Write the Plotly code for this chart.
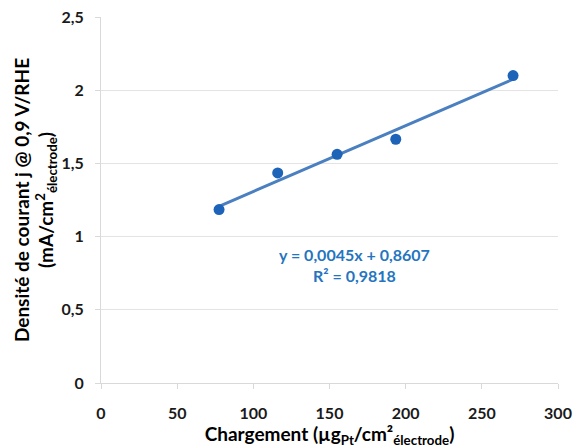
import numpy as np
import plotly.graph_objects as go

loading = [77.5, 116, 155, 193.5, 270.5]
current = [1.185, 1.435, 1.562, 1.665, 2.10]
x_ticks = [0, 50, 100, 150, 200, 250, 300]
y_ticks = [0, 0.5, 1, 1.5, 2, 2.5]
eq_text = "y = 0,0045x + 0,8607<br>R² = 0,9818"

slope, intercept = np.polyfit(loading, current, 1)
fit_x = [min(loading), max(loading)]
fit_y = [slope * v + intercept for v in fit_x]

FONT = "Lato"
fig = go.Figure()
fig.add_trace(go.Scatter(x=fit_x, y=fit_y, mode="lines",
                         line=dict(color="#4a7fc0", width=3), hoverinfo="skip"))
fig.add_trace(go.Scatter(x=loading, y=current, mode="markers",
                         marker=dict(color="#1d63b8", size=11)))

fig.add_annotation(x=166.5, y=0.806, xref="x", yref="y", text=eq_text, showarrow=False,
                   font=dict(family=FONT, size=16, color="#2474c0", weight="bold"),
                   align="center")

fig.update_layout(
    width=573, height=448,
    margin=dict(l=101, r=15, t=17, b=65),
    paper_bgcolor="white", plot_bgcolor="white",
    showlegend=False,
    separators=", ",
    font=dict(family=FONT, color="#1a1a1a"),
    xaxis=dict(range=[0, 300], tickvals=x_ticks, showgrid=False, zeroline=False,
               automargin=False,
               showline=True, linecolor="#d9d9d9", linewidth=1,
               ticks="outside", ticklen=5, tickcolor="#d9d9d9", ticklabelstandoff=11,
               tickfont=dict(family=FONT, size=16, color="#1a1a1a", weight="bold"),
               title=dict(text="Chargement (µg<sub>Pt</sub>/cm²<sub>électrode</sub>)",
                          font=dict(family=FONT, size=19, color="#000000", weight="bold"),
                          standoff=9)),
    yaxis=dict(range=[0, 2.5], tickvals=y_ticks, showgrid=True, gridcolor="#e3e3e3",
               automargin=False,
               zeroline=False, showline=True, linecolor="#d9d9d9", linewidth=1,
               ticks="outside", ticklen=5, tickcolor="#d9d9d9", ticklabelstandoff=8,
               tickfont=dict(family=FONT, size=16, color="#1a1a1a", weight="bold"),
               title=dict(text="Densité de courant j @ 0,9 V/RHE<br>(mA/cm<sup>2</sup><sub>électrode</sub>)",
                          font=dict(family=FONT, size=19, color="#000000", weight="bold"),
                          standoff=2)),
)

fig.write_html("out.html", config={"displayModeBar": False},
               post_script="document.body.style.margin='0';")
